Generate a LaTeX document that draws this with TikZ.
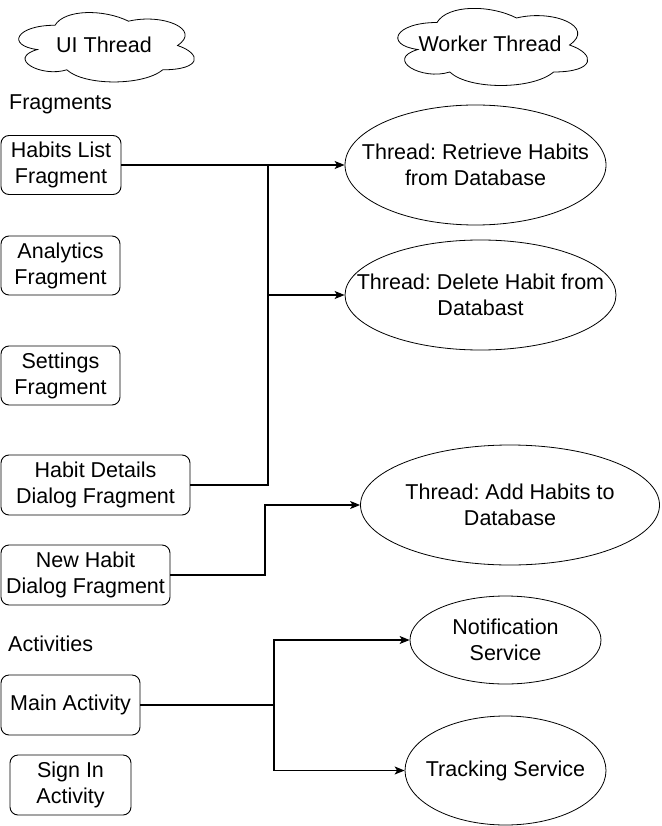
\documentclass[tikz,border=0pt]{standalone}
\usepackage{fontspec}
\setmainfont{Liberation Sans}
\frenchspacing
\usetikzlibrary{shapes.geometric,arrows.meta}
\begin{document}
\begin{tikzpicture}[x=1pt,y=-1pt,
  every node/.style={font=\fontsize{21.5}{26}\selectfont, inner sep=0pt, align=center},
  every label/.style={font=\fontsize{21.5}{26}\selectfont, inner sep=0pt, align=center},
  box/.style={draw, line width=0.9pt, rounded corners=8pt},
  oval/.style={draw, ellipse, line width=0.8pt},
  conn/.style={line width=1.2pt},
  arr/.style={conn, -{Stealth[length=10pt,width=8pt,inset=2.5pt]}}]
\useasboundingbox (0,0) rectangle (661,826);
% clouds (mxCloud path)
\def\cloudpath#1#2#3#4{% x0 y0 w h
  \draw[line width=0.8pt] ({#1+0.25*#3},{#2+0.25*#4})
   .. controls ({#1+0.05*#3},{#2+0.25*#4}) and ({#1},{#2+0.5*#4}) .. ({#1+0.16*#3},{#2+0.55*#4})
   .. controls ({#1},{#2+0.66*#4}) and ({#1+0.18*#3},{#2+0.9*#4}) .. ({#1+0.31*#3},{#2+0.8*#4})
   .. controls ({#1+0.4*#3},{#2+#4}) and ({#1+0.7*#3},{#2+#4}) .. ({#1+0.8*#3},{#2+0.8*#4})
   .. controls ({#1+#3},{#2+0.8*#4}) and ({#1+#3},{#2+0.6*#4}) .. ({#1+0.875*#3},{#2+0.5*#4})
   .. controls ({#1+#3},{#2+0.3*#4}) and ({#1+0.8*#3},{#2+0.1*#4}) .. ({#1+0.625*#3},{#2+0.2*#4})
   .. controls ({#1+0.5*#3},{#2+0.05*#4}) and ({#1+0.3*#3},{#2+0.05*#4}) .. cycle;}
\cloudpath{6}{5}{196}{81}
\cloudpath{384}{0}{212}{90}
\node (ui) at (104,45) {UI Thread};
\node (wk) at (490,44) {Worker Thread};
% labels
\node[anchor=west] (frag) at (9,104) {Fragments};
\node[anchor=west] (act) at (8,644) {Activities};
% boxes
\node[box, minimum width=120pt, minimum height=59pt] (hl) at (61,165) {Habits List\\Fragment};
\node[box, minimum width=119pt, minimum height=59pt] (af) at (60.5,265.5) {Analytics\\Fragment};
\node[box, minimum width=119pt, minimum height=59pt] (sf) at (60.5,375.5) {Settings\\Fragment};
\node[box, minimum width=189pt, minimum height=60pt] (hd) at (95.5,485) {Habit Details\\Dialog Fragment};
\node[box, minimum width=169pt, minimum height=60pt] (nh) at (85.5,575) {New Habit\\Dialog Fragment};
\node[box, minimum width=139pt, minimum height=60pt] (ma) at (70.5,705) {Main Activity};
\node[box, minimum width=121pt, minimum height=60pt] (si) at (70.5,785) {Sign In\\Activity};
% ellipses (text as centred label so the outline keeps its size)
\node[oval, minimum width=261pt, minimum height=120pt, label={center:Thread: Retrieve Habits\\from Database}] (rt) at (475.5,165) {};
\node[oval, minimum width=271pt, minimum height=110pt, label={center:Thread: Delete Habit from\\Databast}] (dl) at (480.5,295) {};
\node[oval, minimum width=299pt, minimum height=120pt, label={center:Thread: Add Habits to\\Database}] (ad) at (510,505) {};
\node[oval, minimum width=191pt, minimum height=88pt, label={center:Notification\\Service}] (ns) at (505.5,640) {};
\node[oval, minimum width=201pt, minimum height=109pt, label={center:Tracking Service}] (ts) at (505.5,770.5) {};
% connectors
\coordinate (j1) at (268,165);
\coordinate (j2) at (268,295);
\coordinate (j3) at (268,485);
\coordinate (j4) at (265,575);
\coordinate (j5) at (274,705);
\draw[arr] (hl.east) -- (rt.west);
\draw[conn] (hd.east) -- (j3) -- (j1);
\draw[arr] (j2) -- (dl.west);
\draw[arr] (nh.east) -- (j4) |- (ad.west);
\draw[arr] (ma.east) -- (j5) |- (ns.west);
\draw[arr] (j5) |- (ts.west);
\end{tikzpicture}
\end{document}
